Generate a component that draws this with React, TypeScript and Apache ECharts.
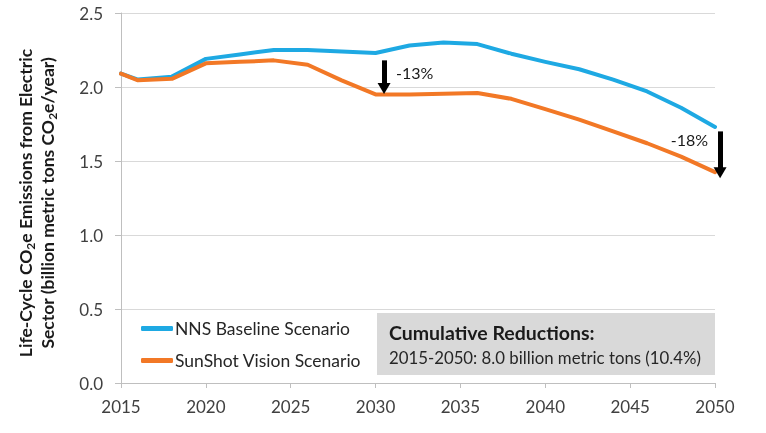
import React, { useEffect, useRef } from "react";
import * as echarts from "echarts";

const years = [2015, 2016, 2018, 2020, 2022, 2024, 2026, 2028, 2030, 2032, 2034, 2036, 2038, 2040, 2042, 2044, 2046, 2048, 2050];
const baseline = [2.09, 2.05, 2.07, 2.19, 2.22, 2.25, 2.25, 2.24, 2.23, 2.28, 2.3, 2.29, 2.225, 2.17, 2.12, 2.05, 1.97, 1.86, 1.73];
const sunshot = [2.09, 2.045, 2.055, 2.16, 2.17, 2.18, 2.15, 2.045, 1.95, 1.95, 1.955, 1.96, 1.92, 1.85, 1.78, 1.7, 1.62, 1.53, 1.425];
const seriesNames = ["NNS Baseline Scenario", "SunShot Vision Scenario"];
const xTicks = { min: 2015, max: 2050, interval: 5 };
const yTicks = { min: 0, max: 2.5, interval: 0.5 };
// reduction arrows (data coordinates)
const arrowYears = [2030.5, 2050.3];
const arrowFrom = [2.18, 1.7];
const arrowTo = [1.99, 1.42];
const arrowLabels = ["-13%", "-18%"];
const arrowLabelValues = [2.095, 1.642];
const boxTitle = "Cumulative Reductions:";
const boxText = "2015-2050: 8.0 billion metric tons (10.4%)";

const FONT = "Lato";
const BLUE = "#1EA9E3";
const ORANGE = "#F27826";

export default function App() {
  const ref = useRef<HTMLDivElement>(null);
  useEffect(() => {
    if (!ref.current) return;
    const chart = echarts.init(ref.current, undefined, { renderer: "svg" });
    const blueData = years.map((y, i) => [y, baseline[i]]);
    const orangeData = years.map((y, i) => [y, sunshot[i]]);
    chart.setOption({
      animation: false,
      textStyle: { fontFamily: FONT },
      grid: { left: 121, right: 51, top: 13, bottom: 50 },
      legend: {
        orient: "vertical",
        left: 141,
        top: 318,
        padding: 0,
        itemGap: 11,
        itemWidth: 32,
        itemHeight: 5,
        icon: "roundRect",
        data: seriesNames,
        textStyle: { fontFamily: FONT, fontSize: 17.5, color: "#262626", lineHeight: 21, padding: [0, 0, 0, -3] },
      },
      xAxis: {
        type: "value",
        min: xTicks.min,
        max: xTicks.max,
        interval: xTicks.interval,
        axisLine: { show: true, lineStyle: { color: "#bfbfbf", width: 1 } },
        axisTick: { show: true, length: 5, lineStyle: { color: "#bfbfbf" } },
        splitLine: { show: false },
        axisLabel: { fontFamily: FONT, fontSize: 17, color: "#404040", margin: 15, formatter: (v: number) => String(v) },
      },
      yAxis: {
        type: "value",
        min: yTicks.min,
        max: yTicks.max,
        interval: yTicks.interval,
        axisLine: { show: true, lineStyle: { color: "#bfbfbf", width: 1 } },
        axisTick: { show: true, length: 6, lineStyle: { color: "#bfbfbf" } },
        splitLine: { show: true, lineStyle: { color: "#d9d9d9", width: 1 } },
        axisLabel: { fontFamily: FONT, fontSize: 17, color: "#404040", margin: 18, formatter: (v: number) => v.toFixed(1) },
        name: "{b|Life-Cycle CO}{sub|2}{b|e Emissions from Electric}\n{b|Sector (billion metric tons CO}{sub|2}{b|e/year)}",
        nameLocation: "middle",
        nameRotate: 90,
        nameGap: 63,
        nameTextStyle: {
          fontFamily: FONT,
          fontSize: 17.5,
          fontWeight: "bold",
          color: "#1a1a1a",
          lineHeight: 22,
          padding: [0, 10, 0, 0],
          rich: {
            b: { fontFamily: FONT, fontSize: 17.5, fontWeight: "bold", color: "#1a1a1a", lineHeight: 22, verticalAlign: "middle" },
            sub: { fontFamily: FONT, fontSize: 12, fontWeight: "bold", color: "#1a1a1a", verticalAlign: "bottom", lineHeight: 12 },
          },
        },
      },
      series: [
        {
          name: seriesNames[0],
          type: "line",
          data: blueData,
          showSymbol: false,
          symbol: "none",
          lineStyle: { color: BLUE, width: 4, cap: "round", join: "round" },
          itemStyle: { color: BLUE },
          z: 3,
        },
        {
          name: seriesNames[1],
          type: "line",
          data: orangeData,
          showSymbol: false,
          symbol: "none",
          lineStyle: { color: ORANGE, width: 4, cap: "round", join: "round" },
          itemStyle: { color: ORANGE },
          z: 3,
        },
      ],
      graphic: [
        {
          type: "rect",
          shape: { x: 377, y: 313, width: 338, height: 62 },
          style: { fill: "#d9d9d9" },
          z: 1,
        },
        {
          type: "text",
          x: 389,
          y: 332,
          style: { text: boxTitle, fontFamily: FONT, fontSize: 19.5, fontWeight: "bold", fill: "#1a1a1a", verticalAlign: "middle" },
          z: 2,
        },
        {
          type: "text",
          x: 389,
          y: 357,
          style: { text: boxText, fontFamily: FONT, fontSize: 16.8, fill: "#262626", verticalAlign: "middle" },
          z: 2,
        },
      ],
    });
    // annotation arrows, placed through the axes' own scales (may extend past the axis end)
    const px = (x: number, y: number) => chart.convertToPixel({ xAxisIndex: 0, yAxisIndex: 0 }, [x, y]) as number[];
    const arrowLines = arrowYears.map((yr, i) => {
      const a = px(yr, arrowFrom[i]);
      const b = px(yr, arrowTo[i]);
      return [{ x: a[0], y: a[1] }, { x: b[0], y: b[1] }];
    });
    const arrowPts = arrowYears.map((yr, i) => {
      const p = px(yr, arrowLabelValues[i]);
      return {
        x: p[0],
        y: p[1],
        label: {
          show: true,
          formatter: arrowLabels[i],
          position: i === 0 ? "right" : "left",
          distance: 12,
          fontFamily: FONT,
          fontSize: 16,
          color: "#1a1a1a",
        },
      };
    });
    chart.setOption({
      series: [
        {},
        {
          markLine: {
            silent: true,
            symbol: ["none", "triangle"],
            symbolSize: [13, 11],
            lineStyle: { color: "#000", width: 5, type: "solid" },
            itemStyle: { color: "#000" },
            label: { show: false },
            data: arrowLines,
          },
          markPoint: {
            silent: true,
            symbol: "circle",
            symbolSize: 0,
            itemStyle: { color: "transparent" },
            data: arrowPts,
          },
        },
      ],
    });
    return () => chart.dispose();
  }, []);
  return <div ref={ref} style={{ position: "fixed", left: 0, top: 0, width: 766, height: 433 }} />;
}
